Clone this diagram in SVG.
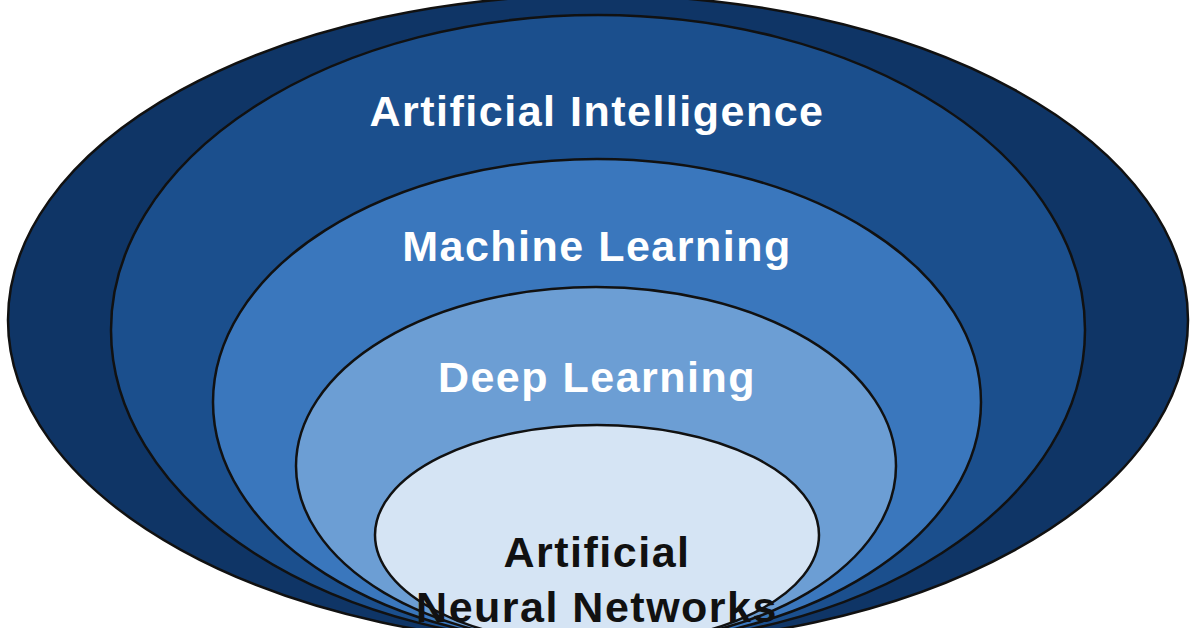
<svg xmlns="http://www.w3.org/2000/svg" width="1196" height="628" viewBox="0 0 1196 628">
<style>
.e{stroke:#111;stroke-width:2.5}
.t{font-family:"Liberation Sans",Arial,sans-serif;font-weight:bold;font-size:43px;letter-spacing:1.5px;text-anchor:middle}
.w{fill:#fff}.k{fill:#111}
</style>
<rect width="1196" height="628" fill="#fff"/>
<g id="ai-outer"><ellipse class="e" cx="598" cy="320" rx="590" ry="325" fill="#0f3566"/></g>
<g id="ai"><ellipse class="e" cx="598" cy="330" rx="487" ry="315" fill="#1b4f8d"/><text class="t w" x="597" y="126">Artificial Intelligence</text></g>
<g id="ml"><ellipse class="e" cx="597" cy="402" rx="384" ry="243" fill="#3a77bd"/><text class="t w" x="597" y="261">Machine Learning</text></g>
<g id="dl"><ellipse class="e" cx="596" cy="466" rx="300" ry="179" fill="#6c9ed4"/><text class="t w" x="597" y="392">Deep Learning</text></g>
<g id="ann"><ellipse class="e" cx="597" cy="535" rx="222" ry="110" fill="#d5e4f4"/><text class="t k" x="597" y="567">Artificial</text><text class="t k" x="597" y="622">Neural Networks</text></g>
<g id="connectors"/>
</svg>
